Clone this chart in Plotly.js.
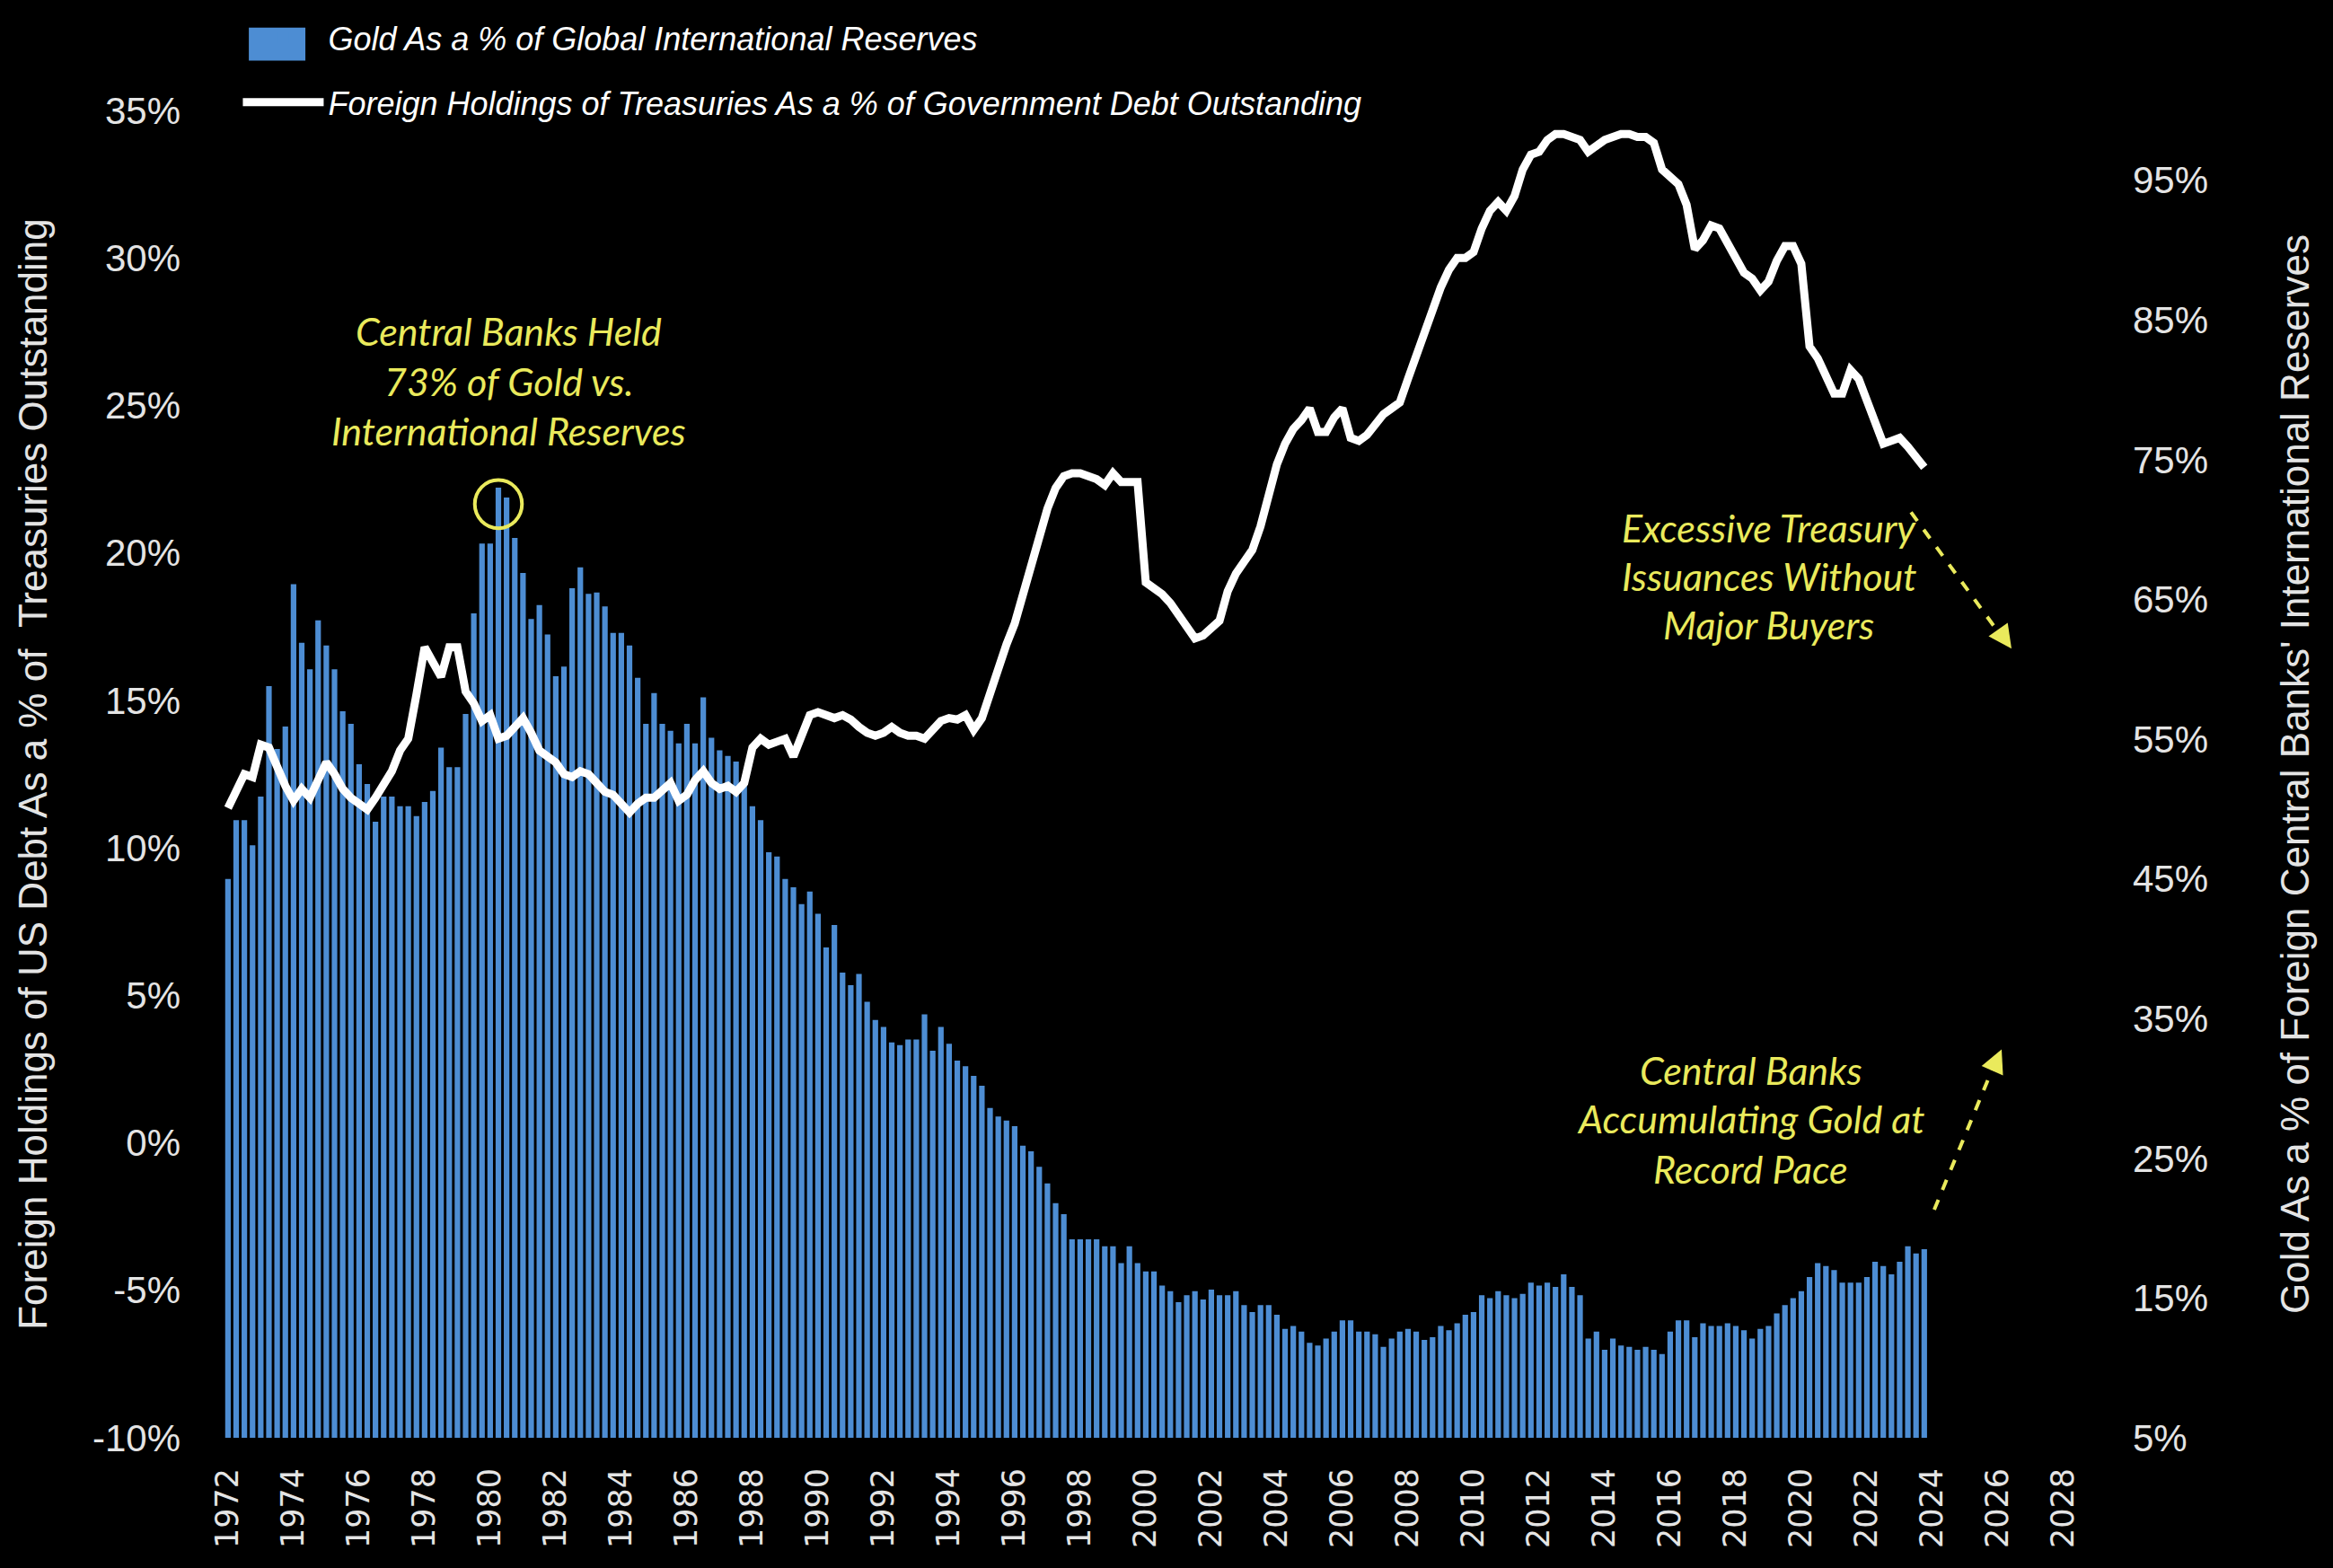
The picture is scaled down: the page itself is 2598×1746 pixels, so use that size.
<!DOCTYPE html>
<html>
<head>
<meta charset="utf-8">
<script src="https://cdn.plot.ly/plotly-3.0.1.min.js"></script>
<style>html,body{margin:0;padding:0;background:#000;}#chart{width:2598px;height:1746px;}</style>
</head>
<body>
<div id="chart"></div>
<script>
// Quarterly observations, 1972 Q1 .. 2023 Q4
const startYear = 1972;

// Gold as a % of foreign central banks' international reserves (right axis, bars)
const goldPct = [
  45.0, 49.2, 49.2, 47.4, 50.9, 58.8, 54.3, 55.9, 66.1, 61.9,
  60.0, 63.5, 61.7, 60.0, 57.0, 56.1, 53.2, 51.8, 49.1, 50.9,
  50.9, 50.2, 50.2, 49.5, 50.5, 51.3, 54.4, 53.0, 53.0, 56.8,
  64.0, 69.0, 69.0, 73.0, 72.3, 69.4, 66.9, 63.6, 64.6, 62.5,
  59.5, 60.2, 65.8, 67.3, 65.4, 65.5, 64.5, 62.6, 62.6, 61.7,
  59.4, 56.1, 58.3, 56.1, 55.6, 54.7, 56.1, 54.7, 58.0, 55.1,
  54.2, 53.8, 53.4, 51.7, 50.2, 49.2, 46.9, 46.6, 45.0, 44.4,
  43.2, 44.1, 42.5, 40.1, 41.7, 38.3, 37.4, 38.2, 36.2, 34.9,
  34.4, 33.3, 33.1, 33.5, 33.5, 35.3, 32.7, 34.4, 33.2, 32.0,
  31.6, 30.9, 30.2, 28.6, 28.0, 27.7, 27.3, 25.9, 25.5, 24.4,
  23.2, 21.8, 21.0, 19.2, 19.2, 19.2, 19.2, 18.7, 18.7, 17.5,
  18.7, 17.5, 16.9, 16.9, 15.9, 15.5, 14.7, 15.2, 15.5, 14.9,
  15.6, 15.2, 15.2, 15.5, 14.5, 14.0, 14.5, 14.5, 13.8, 12.8,
  13.0, 12.6, 11.8, 11.6, 12.1, 12.6, 13.4, 13.4, 12.6, 12.6,
  12.4, 11.5, 12.1, 12.6, 12.8, 12.6, 12.0, 12.2, 13.0, 12.7,
  13.2, 13.8, 14.0, 15.2, 15.0, 15.5, 15.2, 15.0, 15.3, 16.1,
  15.9, 16.1, 15.8, 16.7, 15.8, 15.2, 12.1, 12.6, 11.3, 12.1,
  11.6, 11.5, 11.3, 11.5, 11.3, 11.0, 12.6, 13.4, 13.4, 12.2,
  13.2, 13.0, 13.0, 13.2, 13.0, 12.7, 12.1, 12.8, 13.0, 13.9,
  14.5, 15.0, 15.5, 16.5, 17.5, 17.3, 17.0, 16.1, 16.1, 16.1,
  16.5, 17.6, 17.3, 16.7, 17.6, 18.7, 18.2, 18.5
];

// Foreign holdings of Treasuries as a % of government debt outstanding (left axis, line)
const foreignPct = [
  11.35, 11.9, 12.5, 12.4, 13.5, 13.4, 12.7, 12.1, 11.6, 12.0,
  11.7, 12.3, 12.9, 12.5, 12.0, 11.7, 11.5, 11.3, 11.7, 12.2,
  12.6, 13.3, 13.7, 15.2, 16.8, 16.3, 15.8, 16.8, 16.8, 15.3,
  14.9, 14.3, 14.5, 13.7, 13.8, 14.1, 14.4, 13.9, 13.3, 13.1,
  12.9, 12.5, 12.4, 12.6, 12.5, 12.2, 11.9, 11.8, 11.5, 11.2,
  11.5, 11.7, 11.7, 12.0, 12.2, 11.6, 11.8, 12.3, 12.6, 12.2,
  12.0, 12.1, 11.9, 12.2, 13.4, 13.7, 13.5, 13.6, 13.7, 13.1,
  13.8, 14.5, 14.6, 14.5, 14.4, 14.5, 14.35, 14.1, 13.9, 13.8,
  13.9, 14.1, 13.9, 13.8, 13.8, 13.7, 14.0, 14.3, 14.4, 14.35,
  14.5, 14.0, 14.4, 15.3, 16.2, 16.9, 17.6, 18.6, 19.6, 20.7,
  21.5, 22.2, 22.6, 22.7, 22.7, 22.6, 22.5, 22.3, 22.7, 22.4,
  22.4, 22.4, 19.0, 18.8, 18.6, 18.3, 17.9, 17.5, 17.1, 17.2,
  17.5, 17.7, 18.7, 19.3, 19.7, 20.1, 20.9, 21.9, 23.0, 23.7,
  24.2, 24.5, 24.9, 24.1, 24.1, 24.6, 24.9, 23.9, 23.8, 24.0,
  24.4, 24.7, 24.9, 25.1, 25.9, 26.7, 27.5, 28.3, 29.0, 29.6,
  30.0, 30.0, 30.2, 31.0, 31.6, 31.9, 31.6, 32.1, 33.0, 33.5,
  33.6, 34.0, 34.2, 34.2, 34.1, 34.0, 33.6, 33.8, 34.0, 34.1,
  34.2, 34.2, 34.1, 34.1, 33.9, 33.0, 32.7, 32.5, 31.8, 30.3,
  30.6, 31.1, 31.0, 30.5, 30.0, 29.5, 29.3, 28.9, 29.2, 29.9,
  30.4, 30.4, 29.8, 27.0, 26.6, 26.0, 25.4, 25.4, 26.2, 25.9,
  25.1, 24.4, 23.7, 23.8, 23.9, 23.6, 23.2, 22.9
];

const yearTicks = [1972,1974,1976,1978,1980,1982,1984,1986,1988,1990,1992,1994,1996,1998,
  2000,2002,2004,2006,2008,2010,2012,2014,2016,2018,2020,2022,2024,2026,2028];
const leftTickVals = [-10,-5,0,5,10,15,20,25,30,35];
const leftTickText = ['-10%','-5%','0%','5%','10%','15%','20%','25%','30%','35%'];
const rightTickVals = [5,15,25,35,45,55,65,75,85,95];
const rightTickText = ['5%','15%','25%','35%','45%','55%','65%','75%','85%','95%'];

const seriesNames = [
  'Gold As a % of Global International Reserves',
  'Foreign Holdings of Treasuries As a % of Government Debt Outstanding'
];
const leftTitle = 'Foreign Holdings of US Debt As a % of  Treasuries Outstanding';
const rightTitle = "Gold As a % of Foreign Central Banks' International Reserves";
const noteHeld = ['Central Banks Held', '73% of Gold vs.', 'International Reserves'];
const noteIssuance = ['Excessive Treasury', 'Issuances Without', 'Major Buyers'];
const noteAccum = ['Central Banks', 'Accumulating Gold at', 'Record Pace'];

const xq = goldPct.map((_, i) => startYear + i / 4);

const YELLOW = '#eaea5c';
const TXT = '#e4e4e4';
const BAR = '#4d8dd3';

const traces = [
  {
    type: 'bar', name: seriesNames[0], x: xq, y: goldPct, yaxis: 'y',
    marker: {color: BAR, line: {width: 0}},
    legendgroup: 'g1'
  },
  {
    type: 'scatter', mode: 'lines', name: seriesNames[1], x: xq, y: foreignPct, yaxis: 'y2',
    line: {color: '#ffffff', width: 9},
    legendgroup: 'g2'
  }
];

// peak marker circle computed from data
let pk = 0;
goldPct.forEach((v, i) => { if (v > goldPct[pk]) pk = i; });
const shapes = [
  {type: 'circle', xref: 'x', yref: 'y',
   x0: xq[pk] - 0.72, x1: xq[pk] + 0.72, y0: goldPct[pk] - 2.9, y1: goldPct[pk] + 0.55,
   line: {color: YELLOW, width: 4}},
  {type: 'line', xref: 'paper', yref: 'paper', x0: 0.8906, y0: 0.6973, x1: 0.9400, y1: 0.6000,
   line: {color: YELLOW, width: 4, dash: 'dash'}},
  {type: 'line', xref: 'paper', yref: 'paper', x0: 0.9028, y0: 0.1718, x1: 0.9360, y1: 0.2870,
   line: {color: YELLOW, width: 4, dash: 'dash'}},
  // enlarged legend swatch for the bar series
  {type: 'rect', xref: 'paper', yref: 'paper', x0: 0.0175, x1: 0.0472, y0: 1.0375, y1: 1.0625,
   fillcolor: BAR, line: {width: 0}, layer: 'above'}
];

function block(lines, px, ys) {
  return lines.map((t, k) => ({
    xref: 'paper', yref: 'paper', x: px, y: ys[k], xanchor: 'center', yanchor: 'middle',
    text: t, showarrow: false,
    font: {family: 'Lato, Open Sans, sans-serif', size: 43, color: YELLOW, style: 'italic'}
  }));
}
const annotations = [
  ...block(noteHeld, 0.1542, [0.8338, 0.7961, 0.7585]),
  ...block(noteIssuance, 0.8160, [0.6859, 0.6489, 0.6126]),
  ...block(noteAccum, 0.8066, [0.2773, 0.2403, 0.2027]),
  {xref: 'paper', yref: 'paper', x: 0.9434, y: 0.5945, ax: -14, ay: -20, text: '',
   showarrow: true, arrowhead: 2, arrowsize: 1.3, arrowwidth: 4, arrowcolor: YELLOW},
  {xref: 'paper', yref: 'paper', x: 0.9382, y: 0.2927, ax: -10, ay: 23, text: '',
   showarrow: true, arrowhead: 2, arrowsize: 1.3, arrowwidth: 4, arrowcolor: YELLOW}
];

const layout = {
  width: 2598, height: 1746,
  paper_bgcolor: '#000000', plot_bgcolor: '#000000',
  margin: {l: 240, r: 238, t: 113, b: 145, pad: 0},
  bargap: 0.32,
  showlegend: true,
  legend: {
    x: 0.012, y: 1.075, xanchor: 'left', yanchor: 'top',
    bgcolor: 'rgba(0,0,0,0)', tracegroupgap: 22, itemwidth: 90,
    font: {family: 'Liberation Sans, Arial, sans-serif', size: 36, color: '#ffffff', style: 'italic'}
  },
  xaxis: {
    range: [1971.62, 2029.7], tickmode: 'array', tickvals: yearTicks, ticktext: yearTicks.map(String),
    tickangle: -90, ticks: '', showgrid: false, zeroline: false, showline: false,
    ticklabelstandoff: 26,
    tickfont: {family: 'DejaVu Sans, sans-serif', size: 35, color: TXT}
  },
  yaxis: {
    side: 'right', range: [5, 100], tickmode: 'array', tickvals: rightTickVals, ticktext: rightTickText,
    showgrid: false, zeroline: false, showline: false, ticks: '', ticklabelstandoff: 14,
    tickfont: {family: 'Liberation Sans, Arial, sans-serif', size: 42, color: TXT},
    title: {text: rightTitle, standoff: 82,
      font: {family: 'Liberation Sans, Arial, sans-serif', size: 44, color: TXT}}
  },
  yaxis2: {
    overlaying: 'y', side: 'left', range: [-10, 35], tickmode: 'array', tickvals: leftTickVals, ticktext: leftTickText,
    showgrid: false, zeroline: false, showline: false, ticks: '', ticklabelstandoff: 38,
    tickfont: {family: 'Liberation Sans, Arial, sans-serif', size: 42, color: TXT},
    title: {text: leftTitle, standoff: 36,
      font: {family: 'Liberation Sans, Arial, sans-serif', size: 44, color: TXT}}
  },
  shapes: shapes,
  annotations: annotations
};

Plotly.newPlot('chart', traces, layout, {displayModeBar: false, staticPlot: true});
</script>
</body>
</html>
